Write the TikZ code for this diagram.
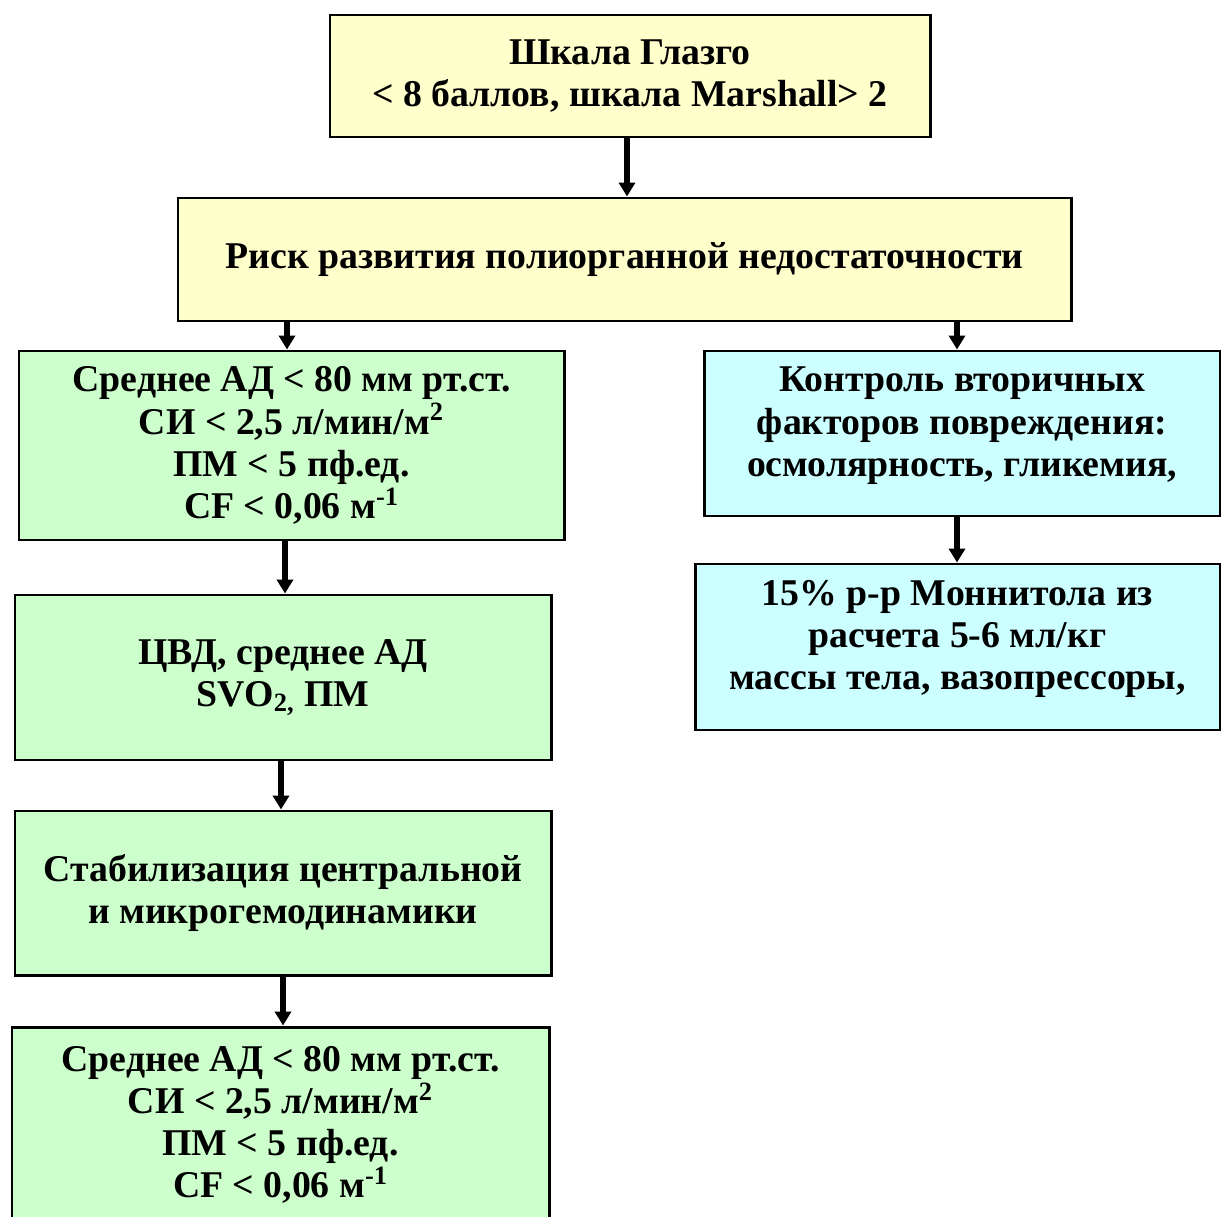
\documentclass[tikz,border=0pt]{standalone}
\usepackage{fontspec}
\setmainfont{Liberation Serif}
\usepackage{tikz}
\usetikzlibrary{positioning}
\usetikzlibrary{arrows.meta}

\definecolor{BoxYellow}{RGB}{255,255,204}
\definecolor{BoxGreen}{RGB}{204,255,204}
\definecolor{BoxCyan}{RGB}{204,255,255}

\tikzset{
	stagebox/.style={draw=black, line width=1.7pt, inner sep=0pt, align=center,
		font=\bfseries\fontsize{21.5}{24}\selectfont},
	flowarrow/.style={line width=3.2pt, -{Triangle[length=0.28cm,width=0.32cm]}},
}

\begin{document}
\begin{tikzpicture}
	\useasboundingbox (0.00cm,0.00cm) rectangle (24.42cm,-24.34cm);
	
	% ---------------------
	% Box centres
	\coordinate (GlasgowC) at (12.60cm,-1.52cm);
	\coordinate (RiskC) at (12.49cm,-5.19cm);
	
	\coordinate (HemoC) at (5.83cm,-8.91cm);
	\path (HemoC) +(-0.17cm,-4.64cm) coordinate (MonitorC);
	\path (MonitorC) +(0.00cm,-4.31cm) coordinate (StabC);
	\path (StabC) +(-0.05cm,-4.64cm) coordinate (TargetC);
	
	\coordinate (ControlC) at (19.24cm,-8.67cm);
	\path (ControlC) +(-0.09cm,-4.27cm) coordinate (MannitolC);
	
	% ---------------------
	% Boxes
	\node[stagebox, fill=BoxYellow, minimum width=12.00cm, minimum height=2.44cm] (Glasgow) at (GlasgowC)
		{Шкала Глазго\\< 8 баллов, шкала Marshall> 2};
	\node[stagebox, fill=BoxYellow, minimum width=17.86cm, minimum height=2.46cm] (Risk) at (RiskC)
		{Риск развития полиорганной недостаточности};
	
	\node[stagebox, fill=BoxGreen, minimum width=10.90cm, minimum height=3.78cm] (Hemo) at (HemoC)
		{Среднее АД < 80 мм рт.ст.\\СИ < 2,5 л/мин/м\textsuperscript{2}\\ПМ < 5 пф.ед.\\CF < 0,06 м\textsuperscript{-1}};
	\node[stagebox, fill=BoxGreen, minimum width=10.72cm, minimum height=3.30cm] (Monitor) at (MonitorC)
		{ЦВД, среднее АД\\SVO\textsubscript{2,} ПМ};
	\node[stagebox, fill=BoxGreen, minimum width=10.72cm, minimum height=3.28cm] (Stab) at (StabC)
		{Стабилизация центральной\\и микрогемодинамики};
	\node[stagebox, fill=BoxGreen, minimum width=10.74cm, minimum height=3.92cm] (Target) at (TargetC)
		{Среднее АД < 80 мм рт.ст.\\СИ < 2,5 л/мин/м\textsuperscript{2}\\ПМ < 5 пф.ед.\\CF < 0,06 м\textsuperscript{-1}};
	
	\node[stagebox, fill=BoxCyan, text depth=0.47cm, minimum width=10.32cm, minimum height=3.30cm] (Control) at (ControlC)
		{Контроль вторичных\\факторов повреждения:\\осмолярность, гликемия,};
	\node[stagebox, fill=BoxCyan, text depth=0.47cm, minimum width=10.50cm, minimum height=3.32cm] (Mannitol) at (MannitolC)
		{15\% р-р Моннитола из\\расчета 5-6 мл/кг\\массы тела, вазопрессоры,};
	
	% ---------------------
	% Arrows
	\draw[flowarrow] ([xshift=-0.06cm]Glasgow.south) -- ([xshift=-0.06cm]Glasgow.south |- Risk.north);
	\draw[flowarrow] ([xshift=-0.09cm]Risk.south -| Hemo.north) -- ([xshift=-0.09cm]Hemo.north);
	\draw[flowarrow] ([xshift=-0.10cm]Risk.south -| Control.north) -- ([xshift=-0.10cm]Control.north);
	\draw[flowarrow] ([xshift=-0.13cm]Hemo.south) -- ([xshift=-0.13cm]Hemo.south |- Monitor.north);
	\draw[flowarrow] ([xshift=-0.10cm]Control.south) -- ([xshift=-0.10cm]Control.south |- Mannitol.north);
	\draw[flowarrow] ([xshift=-0.04cm]Monitor.south) -- ([xshift=-0.04cm]Monitor.south |- Stab.north);
	\draw[flowarrow] (Stab.south) -- (Stab.south |- Target.north);
	
\end{tikzpicture}
\end{document}
